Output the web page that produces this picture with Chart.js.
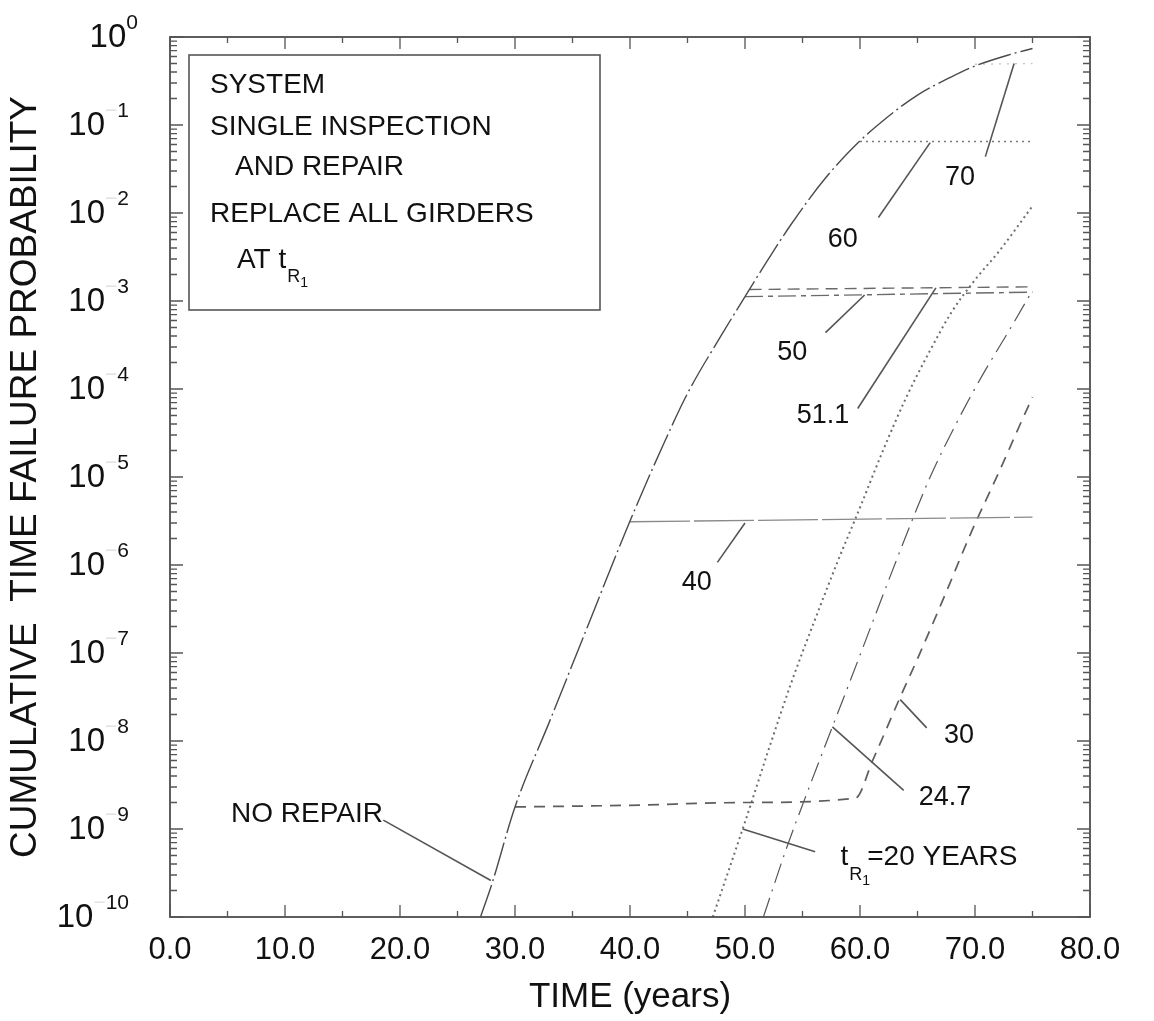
<!DOCTYPE html>
<html>
<head>
<meta charset="utf-8">
<script src="https://cdn.jsdelivr.net/npm/chart.js@4.4.0/dist/chart.umd.min.js"></script>
<style>
  html, body { margin: 0; padding: 0; background: #ffffff; }
  #wrap { width: 1154px; height: 1021px; }
</style>
</head>
<body>
<div id="wrap"><canvas id="c" width="1154" height="1021"></canvas></div>
<script>
// ---------------- DATA ----------------
// time in years, cumulative time failure probability
const noRepairT = [27.0, 28, 30, 33, 36, 40, 43, 45, 48, 50, 52, 54, 57, 60, 62, 65, 68, 70, 73, 75];
const noRepairP = [1e-10, 2.4e-10, 1.78e-9, 1.66e-8, 1.58e-7, 3.16e-6, 2.5e-5, 8.9e-5, 4.2e-4, 1.12e-3,
                   2.95e-3, 7.4e-3, 2.5e-2, 6.6e-2, 0.112, 0.219, 0.355, 0.468, 0.63, 0.74];

const rep70T = [70, 75];
const rep70P = [0.49, 0.50];

const rep60T = [60, 75];
const rep60P = [0.065, 0.065];

const rep511T = [50.4, 75];
const rep511P = [1.35e-3, 1.45e-3];

const rep50T = [50, 75];
const rep50P = [1.12e-3, 1.26e-3];

const rep40T = [40, 75];
const rep40P = [3.1e-6, 3.5e-6];

const rep30T = [30, 40, 50, 59.6, 61.1, 63.4, 65.0, 67.4, 69.7, 72.1, 73.9, 75];
const rep30P = [1.78e-9, 1.86e-9, 2.0e-9, 2.24e-9, 6.0e-9, 2.95e-8, 8.6e-8, 4.6e-7, 2.4e-6, 1.15e-5, 3.9e-5, 8.1e-5];

const rep247T = [51.6, 53.6, 55.2, 57.6, 59.0, 61.7, 64.3, 66.1, 68.3, 70.6, 73.0, 75];
const rep247P = [1e-10, 6.0e-10, 2.2e-9, 1.45e-8, 4.3e-8, 3.6e-7, 2.7e-6, 1.0e-5, 3.9e-5, 1.4e-4, 4.7e-4, 1.32e-3];

const rep20T = [47.2, 50, 52, 54, 56, 58, 60, 62, 64, 66, 68, 70, 72, 75];
const rep20P = [1e-10, 1.2e-9, 7.6e-9, 4.5e-8, 2.24e-7, 1.05e-6, 4.5e-6, 2.0e-5, 7.9e-5, 2.6e-4, 7.6e-4, 1.74e-3, 3.55e-3, 1.2e-2];

// axis ticks
const xTickValues = [0, 10, 20, 30, 40, 50, 60, 70, 80];
const xTickLabels = ["0.0", "10.0", "20.0", "30.0", "40.0", "50.0", "60.0", "70.0", "80.0"];
const xMinorValues = [5, 15, 25, 35, 45, 55, 65, 75];
const yTickValues = [1e0, 1e-1, 1e-2, 1e-3, 1e-4, 1e-5, 1e-6, 1e-7, 1e-8, 1e-9, 1e-10];
const yTickExponents = ["0", "1", "2", "3", "4", "5", "6", "7", "8", "9", "10"];

// curve labels and leader lines (data coordinates)
const curveLabels = [
  { text: "NO REPAIR", tx: 5.3,  ty: 1.2e-9,  x1: 18.55, y1: 1.26e-9, x2: 27.9, y2: 2.6e-10 },
  { text: "70",        tx: 67.4, ty: 2.09e-2, x1: 70.9,  y1: 4.37e-2, x2: 73.4, y2: 0.50 },
  { text: "60",        tx: 57.2, ty: 4.07e-3, x1: 61.6,  y1: 8.9e-3,  x2: 66.1, y2: 6.3e-2 },
  { text: "50",        tx: 52.8, ty: 2.14e-4, x1: 57.0,  y1: 4.37e-4, x2: 60.4, y2: 1.17e-3 },
  { text: "51.1",      tx: 54.5, ty: 4.07e-5, x1: 59.8,  y1: 6.0e-5,  x2: 66.6, y2: 1.41e-3 },
  { text: "40",        tx: 44.5, ty: 5.2e-7,  x1: 47.6,  y1: 1.07e-6, x2: 50.0, y2: 3.0e-6 },
  { text: "30",        tx: 67.3, ty: 9.5e-9,  x1: 65.8,  y1: 1.41e-8, x2: 63.5, y2: 2.95e-8 },
  { text: "24.7",      tx: 65.1, ty: 1.86e-9, x1: 63.8,  y1: 2.75e-9, x2: 57.6, y2: 1.45e-8 },
  { text: "tR1=20 YEARS", tx: 58.3, ty: 3.9e-10, x1: 56.1, y1: 5.5e-10, x2: 49.8, y2: 1.0e-9 }
];

// ---------------- CHART ----------------
const FONT = '"Liberation Sans", Arial, Helvetica, sans-serif';
function pts(ts, ps) { return ts.map((t, i) => ({ x: t, y: ps[i] })); }

const datasets = [
  { label: "NO REPAIR", data: pts(noRepairT, noRepairP), borderColor: "#4a4a4a", borderWidth: 1.4,
    borderDash: [34, 4, 2, 4], cubicInterpolationMode: "monotone" },
  { label: "70", data: pts(rep70T, rep70P), borderColor: "#c4c4c4", borderWidth: 1.3, borderDash: [2, 6] },
  { label: "60", data: pts(rep60T, rep60P), borderColor: "#7a7a7a", borderWidth: 1.6, borderDash: [2, 4] },
  { label: "51.1", data: pts(rep511T, rep511P), borderColor: "#6a6a6a", borderWidth: 1.4, borderDash: [12, 7] },
  { label: "50", data: pts(rep50T, rep50P), borderColor: "#6a6a6a", borderWidth: 1.4, borderDash: [18, 5, 5, 5] },
  { label: "40", data: pts(rep40T, rep40P), borderColor: "#8a8a8a", borderWidth: 1.3, borderDash: [60, 4] },
  { label: "30", data: pts(rep30T, rep30P), borderColor: "#5e5e5e", borderWidth: 1.7, borderDash: [11, 8],
    cubicInterpolationMode: "monotone" },
  { label: "24.7", data: pts(rep247T, rep247P), borderColor: "#555555", borderWidth: 1.2, borderDash: [20, 7, 2, 7],
    cubicInterpolationMode: "monotone" },
  { label: "20", data: pts(rep20T, rep20P), borderColor: "#6e6e6e", borderWidth: 2.0, borderDash: [2, 3.5],
    cubicInterpolationMode: "monotone" }
];
datasets.forEach(d => { d.pointRadius = 0; d.fill = false; });

const decorPlugin = {
  id: "decor",
  beforeDraw(chart) {
    const ctx = chart.ctx;
    ctx.save();
    ctx.fillStyle = "#ffffff";
    ctx.fillRect(0, 0, chart.width, chart.height);
    ctx.restore();
  },
  afterDraw(chart) {
    const ctx = chart.ctx;
    const xs = chart.scales.x, ys = chart.scales.y;
    const a = chart.chartArea;
    ctx.save();

    // frame
    ctx.strokeStyle = "#4d4d4d";
    ctx.lineWidth = 1.8;
    ctx.strokeRect(a.left, a.top, a.right - a.left, a.bottom - a.top);

    // x ticks (inside, bottom and top)
    ctx.lineWidth = 1.3;
    ctx.strokeStyle = "#555";
    xTickValues.forEach(v => {
      const px = xs.getPixelForValue(v);
      ctx.beginPath();
      ctx.moveTo(px, a.bottom); ctx.lineTo(px, a.bottom - 12);
      ctx.moveTo(px, a.top); ctx.lineTo(px, a.top + 12);
      ctx.stroke();
    });
    xMinorValues.forEach(v => {
      const px = xs.getPixelForValue(v);
      ctx.beginPath();
      ctx.moveTo(px, a.bottom); ctx.lineTo(px, a.bottom - 6);
      ctx.moveTo(px, a.top); ctx.lineTo(px, a.top + 6);
      ctx.stroke();
    });

    // y ticks (inside, left and right)
    yTickValues.forEach((v, i) => {
      const py = ys.getPixelForValue(v);
      ctx.beginPath();
      ctx.moveTo(a.left, py); ctx.lineTo(a.left + 13, py);
      ctx.moveTo(a.right, py); ctx.lineTo(a.right - 13, py);
      ctx.stroke();
      if (i < yTickValues.length - 1) {
        for (let m = 2; m <= 9; m++) {
          const my = ys.getPixelForValue(v / 10 * m);
          const len = 7;
          ctx.beginPath();
          ctx.moveTo(a.left, my); ctx.lineTo(a.left + len, my);
          ctx.moveTo(a.right, my); ctx.lineTo(a.right - len, my);
          ctx.stroke();
        }
      }
    });

    // x tick labels
    ctx.fillStyle = "#111";
    ctx.font = "31px " + FONT;
    ctx.textAlign = "center";
    ctx.textBaseline = "middle";
    xTickValues.forEach((v, i) => {
      ctx.fillText(xTickLabels[i], xs.getPixelForValue(v), 950);
    });

    // y tick labels: 10^-n (minus sign faded as in the scan)
    yTickValues.forEach((v, i) => {
      const py = ys.getPixelForValue(v);
      const exp = yTickExponents[i];
      const neg = exp !== "0";
      ctx.font = "21px " + FONT;
      const minusW = neg ? ctx.measureText("\u2212").width : 0;
      const expW = ctx.measureText(exp).width;
      ctx.font = "33px " + FONT;
      const baseW = ctx.measureText("10").width;
      const right = neg ? 129 : 138;
      const x0 = right - expW - minusW - baseW;
      ctx.textAlign = "left";
      ctx.textBaseline = "middle";
      ctx.fillStyle = "#111";
      ctx.fillText("10", x0, py + 1);
      ctx.font = "21px " + FONT;
      ctx.textBaseline = "alphabetic";
      if (neg) {
        ctx.fillStyle = "#e2e2e2";
        ctx.fillText("\u2212", x0 + baseW, py - 8);
      }
      ctx.fillStyle = "#111";
      ctx.fillText(exp, x0 + baseW + minusW, py - 8);
    });

    // axis titles
    ctx.fillStyle = "#111";
    ctx.font = "35px " + FONT;
    ctx.textAlign = "center";
    ctx.textBaseline = "middle";
    ctx.fillText("TIME (years)", 630, 997);

    ctx.save();
    ctx.translate(26, 477);
    ctx.rotate(-Math.PI / 2);
    ctx.font = "37px " + FONT;
    ctx.fillText("CUMULATIVE  TIME FAILURE PROBABILITY", 0, 0);
    ctx.restore();

    // info box
    ctx.strokeStyle = "#555";
    ctx.lineWidth = 1.6;
    ctx.strokeRect(189, 55, 411, 255);
    ctx.fillStyle = "#111";
    ctx.textAlign = "left";
    ctx.textBaseline = "alphabetic";
    ctx.font = "28px " + FONT;
    ctx.fillText("SYSTEM", 210, 93);
    ctx.fillText("SINGLE INSPECTION", 210, 135);
    ctx.fillText("AND REPAIR", 235, 175);
    ctx.fillText("REPLACE ALL GIRDERS", 210, 222);
    ctx.fillText("AT t", 237, 268);
    let w = ctx.measureText("AT t").width;
    ctx.font = "18px " + FONT;
    ctx.fillText("R", 237 + w + 1, 282);
    let wr = ctx.measureText("R").width;
    ctx.font = "14px " + FONT;
    ctx.fillText("1", 237 + w + 1 + wr, 287);

    // curve labels + leader lines
    ctx.strokeStyle = "#555";
    ctx.lineWidth = 1.6;
    curveLabels.forEach(l => {
      ctx.beginPath();
      ctx.moveTo(xs.getPixelForValue(l.x1), ys.getPixelForValue(l.y1));
      ctx.lineTo(xs.getPixelForValue(l.x2), ys.getPixelForValue(l.y2));
      ctx.stroke();
      const tx = xs.getPixelForValue(l.tx), ty = ys.getPixelForValue(l.ty);
      ctx.fillStyle = "#111";
      ctx.textAlign = "left";
      ctx.textBaseline = "alphabetic";
      if (l.text.startsWith("tR1")) {
        ctx.font = "28px " + FONT;
        ctx.fillText("t", tx, ty);
        const wt = ctx.measureText("t").width;
        ctx.font = "18px " + FONT;
        ctx.fillText("R", tx + wt + 1, ty + 15);
        const wR = ctx.measureText("R").width;
        ctx.font = "14px " + FONT;
        ctx.fillText("1", tx + wt + 1 + wR, ty + 20);
        ctx.font = "28px " + FONT;
        ctx.fillText("=20 YEARS", tx + wt + 1 + wR + 5, ty);
      } else {
        ctx.font = (l.text === "NO REPAIR" ? "28px " : "27px ") + FONT;
        ctx.fillText(l.text, tx, ty);
      }
    });

    ctx.restore();
  }
};

new Chart(document.getElementById("c"), {
  type: "line",
  data: { datasets: datasets },
  options: {
    responsive: false,
    animation: false,
    devicePixelRatio: 1,
    layout: { padding: { left: 170, right: 64, top: 37, bottom: 104 } },
    plugins: { legend: { display: false }, tooltip: { enabled: false } },
    scales: {
      x: { type: "linear", min: 0, max: 80, display: false },
      y: { type: "logarithmic", min: 1e-10, max: 1, display: false }
    }
  },
  plugins: [decorPlugin]
});
</script>
</body>
</html>
